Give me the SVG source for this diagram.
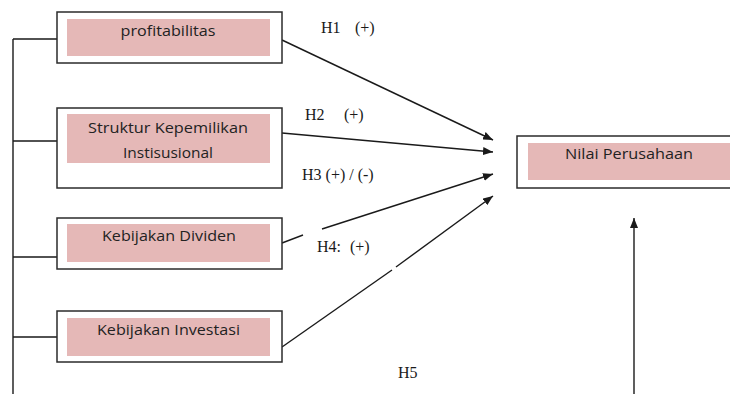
<svg xmlns="http://www.w3.org/2000/svg" width="730" height="394" viewBox="0 0 730 394">
<style>
.box{fill:#fff;stroke:#2b2b2b;stroke-width:1.5}
.fill{fill:#e5b8b7}
.lbl{font-family:"Open Sans","DejaVu Sans",sans-serif;font-size:14px;fill:#222;text-anchor:middle}
.h{font-family:"Liberation Serif","Times New Roman",serif;font-size:16px;fill:#1a1a1a}
.ln{stroke:#1a1a1a;stroke-width:1.4;fill:none}
</style>
<defs>
<marker id="ah" markerWidth="10" markerHeight="8" refX="10" refY="4" orient="auto" markerUnits="userSpaceOnUse">
<path d="M0,0 L10,4 L0,8 Z" fill="#1a1a1a"/>
</marker>
</defs>
<rect width="730" height="394" fill="#fff"/>
<g id="connectors">
<path class="ln" d="M13,39 V394 M13,39 H57 M13,141 H57 M13,257 H57 M13,337 H57"/>
<line class="ln" x1="282" y1="40" x2="493" y2="140" marker-end="url(#ah)"/>
<line class="ln" x1="282" y1="133" x2="493" y2="152" marker-end="url(#ah)"/>
<line class="ln" x1="282" y1="243" x2="303" y2="235"/>
<line class="ln" x1="322" y1="229" x2="493" y2="174" marker-end="url(#ah)"/>
<line class="ln" x1="282" y1="347" x2="392" y2="270"/>
<line class="ln" x1="396" y1="267" x2="493" y2="196" marker-end="url(#ah)"/>
<line class="ln" x1="634" y1="394" x2="634" y2="218" marker-end="url(#ah)"/>
</g>
<g id="profitabilitas">
<rect class="box" x="57" y="12" width="225" height="51"/>
<rect class="fill" x="67" y="19" width="203" height="37"/>
<text class="lbl" x="168" y="36" textLength="95" lengthAdjust="spacingAndGlyphs">profitabilitas</text>
</g>
<g id="struktur">
<rect class="box" x="57" y="108" width="225" height="80"/>
<rect class="fill" x="67" y="114" width="203" height="49"/>
<text class="lbl" x="168" y="133" textLength="160" lengthAdjust="spacingAndGlyphs">Struktur Kepemilikan</text>
<text class="lbl" x="168" y="158" textLength="90" lengthAdjust="spacingAndGlyphs">Instisusional</text>
</g>
<g id="dividen">
<rect class="box" x="57" y="218" width="225" height="51"/>
<rect class="fill" x="67" y="224" width="203" height="38"/>
<text class="lbl" x="169" y="241" textLength="134" lengthAdjust="spacingAndGlyphs">Kebijakan Dividen</text>
</g>
<g id="investasi">
<rect class="box" x="57" y="311" width="225" height="51"/>
<rect class="fill" x="67" y="318" width="203" height="38"/>
<text class="lbl" x="168.5" y="335" textLength="143" lengthAdjust="spacingAndGlyphs">Kebijakan Investasi</text>
</g>
<g id="nilai">
<rect class="box" x="517" y="136" width="215" height="52"/>
<rect class="fill" x="528" y="143" width="202" height="37"/>
<text class="lbl" x="629" y="159" textLength="128" lengthAdjust="spacingAndGlyphs">Nilai Perusahaan</text>
</g>
<g id="labels">
<text class="h" x="321" y="33">H1</text>
<text class="h" x="355" y="33">(+)</text>
<text class="h" x="305" y="120">H2</text>
<text class="h" x="344" y="120">(+)</text>
<text class="h" x="302" y="180">H3 (+) / (-)</text>
<text class="h" x="317" y="252">H4:</text>
<text class="h" x="350" y="252">(+)</text>
<text class="h" x="398" y="378">H5</text>
</g>
</svg>
